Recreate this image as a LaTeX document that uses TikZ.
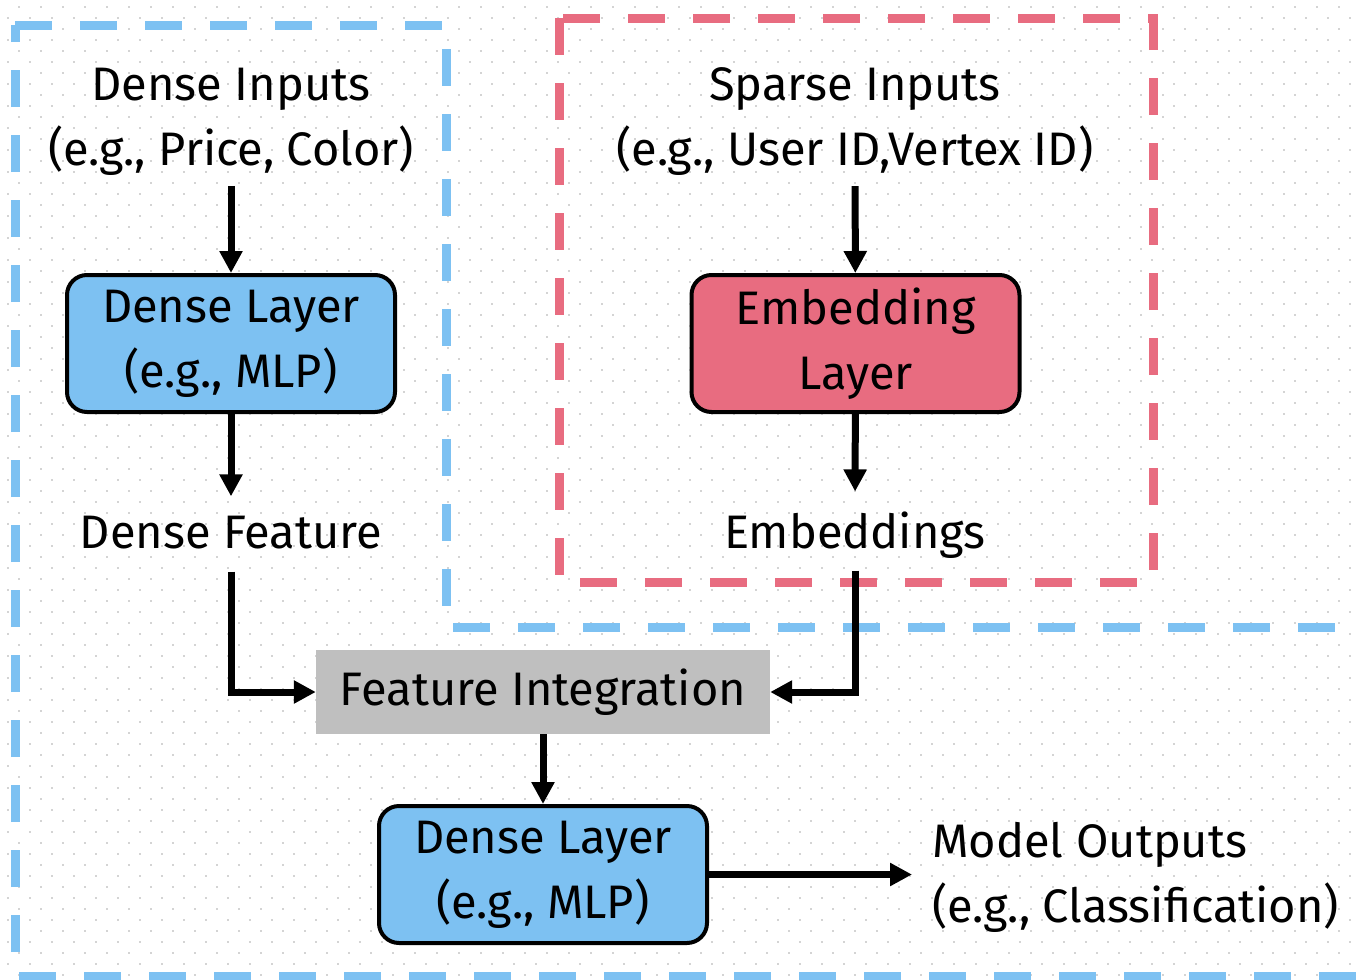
\documentclass[tikz,border=0pt]{standalone}
\usepackage{fontspec}
\setmainfont{Fira Sans}
\usetikzlibrary{arrows.meta}

\definecolor{boxblue}{HTML}{7DC1F2}
\definecolor{boxred}{HTML}{E86C80}
\definecolor{boxgray}{HTML}{BFBFBF}
\definecolor{dotgray}{HTML}{D4D4D4}

\tikzset{
  layerbox/.style={draw=black,line width=4pt,rounded corners=20pt,
    minimum width=328pt,minimum height=137pt,align=center,inner sep=0pt},
  txt/.style={align=center,inner sep=0pt},
  flow/.style={-{Triangle[length=22pt,width=22pt]},line width=7pt},
  region/.style={line width=9pt,dash pattern=on 37pt off 28pt},
}

\begin{document}
\begin{tikzpicture}[x=1pt,y=-1pt,font=\fontsize{47}{65}\selectfont]
\useasboundingbox (0,0) rectangle (1358,980);
\clip (0,0) rectangle (1358,980);

% 背景点阵
\foreach \r in {0,...,88}{
  \pgfmathsetmacro{\xs}{mod(\r,2)==1 ? 7 : 18}
  \draw[dotgray,line width=2pt,dash pattern=on 2pt off 20pt] (\xs,7+11*\r) -- (1358,7+11*\r);
}

% 虚线分区
\draw[region,boxblue] (15,25) -- (446,25) -- (446,627) -- (1380,627)
  -- (1380,976) -- (15,976) -- cycle;
\draw[region,boxred] (559,18) rectangle (1153,582);

% 节点
\node[txt] (din) at (231,122) {Dense Inputs\\(e.g., Price, Color)};
\node[layerbox,fill=boxblue] (dl1) at (231,343.5) {Dense Layer\\(e.g., MLP)};
\node[txt] (dfeat) at (231,533) {Dense Feature};

\node[txt] (sin) at (855,122) {Sparse Inputs\\(e.g., User ID,Vertex ID)};
\node[layerbox,fill=boxred] (emb) at (855.5,343.5) {Embedding\\Layer};
\node[txt] (embs) at (855,535) {Embeddings};

\node[fill=boxgray,minimum width=454pt,minimum height=84pt,inner sep=0pt] (fi) at (543,692) {Feature Integration};
\node[layerbox,fill=boxblue] (dl2) at (543,874.5) {Dense Layer\\(e.g., MLP)};
\node[txt,anchor=west,align=left] (mout) at (932,877) {Model Outputs\\(e.g., Classification)};

% 连线
\draw[flow,shorten <=10pt] (din) -- (dl1);
\draw[flow,shorten >=20pt] (dl1) -- (dfeat);
\draw[flow,shorten <=10pt] (sin) -- (emb);
\draw[flow,shorten >=20pt] (emb) -- (embs);
\draw[flow,shorten <=22pt] (dfeat.south) |- (fi.west);
\draw[flow,shorten <=12pt] (embs.south) |- (fi.east);
\draw[flow] (fi) -- (dl2);
\draw[flow,shorten >=20pt] (dl2.east) -- (dl2.east -| mout.west);

\end{tikzpicture}
\end{document}
